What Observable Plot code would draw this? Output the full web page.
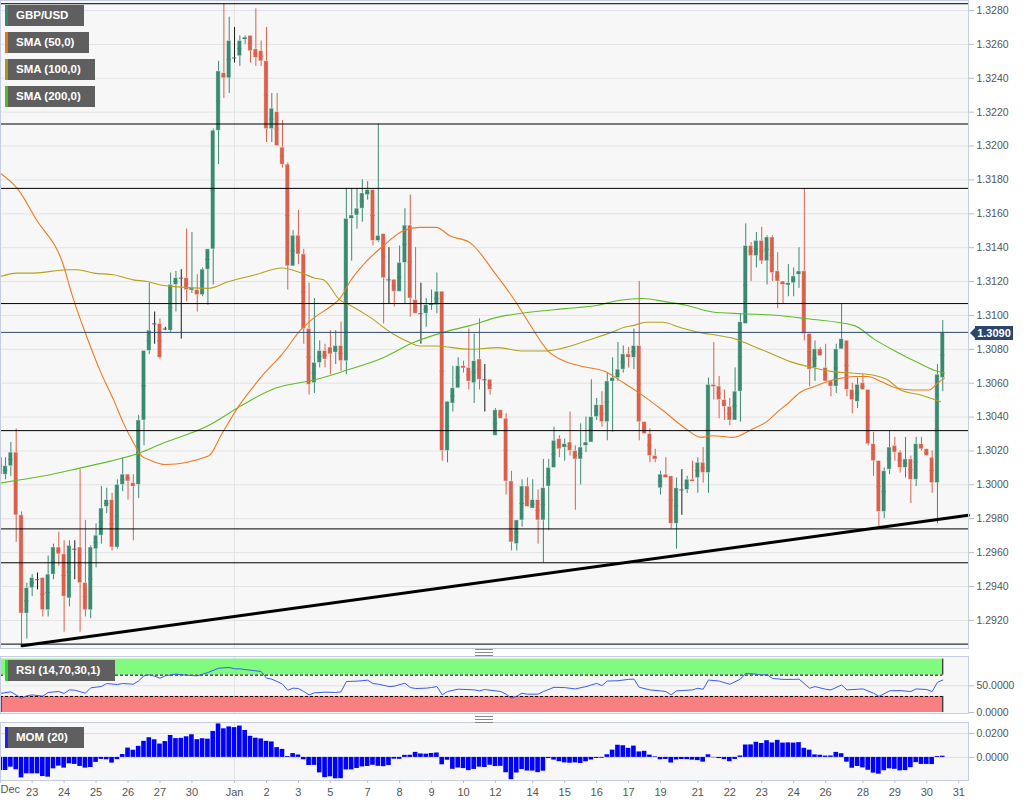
<!DOCTYPE html>
<html><head><meta charset="utf-8">
<script src="https://cdn.jsdelivr.net/npm/d3@7"></script>
<script src="https://cdn.jsdelivr.net/npm/@observablehq/plot@0.6"></script>
<style>
body{margin:0;background:#fff;font-family:"Liberation Sans",Arial,sans-serif;}
#wrap{position:relative;width:1033px;height:806px;overflow:hidden;background:#fff;}
.panel{position:absolute;left:0;}
.leg{position:absolute;left:5px;height:21px;background:#5f5f5f;color:#fff;font:bold 11.5px "Liberation Sans",Arial,sans-serif;line-height:21px;padding-left:8px;box-sizing:border-box;border-left:3px solid;white-space:nowrap;}
.handle{position:absolute;left:475px;width:18px;height:5px;border-top:1px solid #888;border-bottom:1px solid #888;}
.handle:after{content:"";position:absolute;left:0;right:0;top:1.5px;border-top:1px solid #888;}
#tag{position:absolute;left:975px;top:326px;width:38px;height:14px;background:#2d4569;color:#fff;font:bold 11px "Liberation Sans",Arial,sans-serif;line-height:14px;text-align:center;}
#tag:before{content:"";position:absolute;left:-5px;top:2px;border-top:5px solid transparent;border-bottom:5px solid transparent;border-right:5px solid #2d4569;}
</style></head>
<body><div id="wrap"></div>
<script>
// ---- candle data (GBP/USD, one value per bar) ----
const open = [1.3006,1.3006,1.3011,1.3019,1.2982,1.2924,1.2939,1.2944,1.2945,1.2926,
1.2947,1.2963,1.2959,1.2933,1.2962,1.2963,1.2942,1.2926,1.2962,1.2970,
1.2987,1.2991,1.2963,1.3000,1.3006,1.3001,1.3000,1.3038,1.3079,1.3095,
1.3095,1.3092,1.3091,1.3118,1.3122,1.3122,1.3115,1.3115,1.3112,1.3127,
1.3139,1.3209,1.3243,1.3240,1.3252,1.3253,1.3263,1.3265,1.3257,1.3256,
1.3250,1.3210,1.3220,1.3199,1.3189,1.3129,1.3147,1.3136,1.3092,1.3060,
1.3072,1.3079,1.3081,1.3078,1.3082,1.3073,1.3157,1.3159,1.3163,1.3171,
1.3174,1.3144,1.3148,1.3121,1.3121,1.3114,1.3131,1.3153,1.3109,1.3101,
1.3101,1.3106,1.3106,1.3114,1.3020,1.3048,1.3057,1.3070,1.3069,1.3060,
1.3074,1.3062,1.3062,1.3029,1.3044,1.3039,1.3002,1.2965,1.2979,1.2999,
1.2986,1.2991,1.2979,1.2999,1.3010,1.3027,1.3022,1.3025,1.3020,1.3015,
1.3023,1.3025,1.3040,1.3047,1.3037,1.3061,1.3063,1.3068,1.3077,1.3075,
1.3082,1.3037,1.3030,1.3017,1.2998,1.3006,1.3005,1.2977,1.2997,1.2997,
1.3003,1.3004,1.3013,1.3007,1.3059,1.3058,1.3050,1.3046,1.3038,1.3055,
1.3095,1.3141,1.3135,1.3144,1.3132,1.3146,1.3126,1.3120,1.3118,1.3119,
1.3124,1.3126,1.3089,1.3069,1.3080,1.3069,1.3061,1.3058,1.3080,1.3085,
1.3056,1.3049,1.3060,1.3056,1.3024,1.3014,1.2984,1.3009,1.3023,1.3019,
1.3010,1.3015,1.3003,1.3024,1.3021,1.3016,1.3001,1.3063];
const high = [1.3017,1.3016,1.3025,1.3033,1.2984,1.2942,1.2947,1.2948,1.2945,1.2958,
1.2965,1.2972,1.2967,1.2967,1.2967,1.3009,1.2979,1.2964,1.2977,1.2999,
1.2998,1.2995,1.3003,1.3016,1.3006,1.3006,1.3041,1.3079,1.3119,1.3102,
1.3098,1.3093,1.3125,1.3126,1.3127,1.3151,1.3149,1.3124,1.3128,1.3139,
1.3210,1.3250,1.3284,1.3276,1.3270,1.3265,1.3265,1.3265,1.3281,1.3262,
1.3270,1.3231,1.3231,1.3215,1.3190,1.3150,1.3162,1.3139,1.3119,1.3110,
1.3085,1.3083,1.3091,1.3091,1.3096,1.3175,1.3175,1.3175,1.3180,1.3179,
1.3174,1.3213,1.3148,1.3140,1.3121,1.3141,1.3163,1.3171,1.3140,1.3119,
1.3110,1.3115,1.3125,1.3114,1.3049,1.3070,1.3075,1.3073,1.3092,1.3089,
1.3098,1.3071,1.3062,1.3045,1.3044,1.3042,1.3008,1.2979,1.3003,1.3004,
1.3003,1.2997,1.3015,1.3015,1.3034,1.3029,1.3027,1.3043,1.3023,1.3036,
1.3040,1.3062,1.3051,1.3055,1.3066,1.3075,1.3084,1.3082,1.3081,1.3092,
1.3120,1.3037,1.3033,1.3021,1.3008,1.3016,1.3005,1.3004,1.3009,1.3005,
1.3014,1.3016,1.3022,1.3063,1.3084,1.3064,1.3056,1.3051,1.3069,1.3101,
1.3154,1.3143,1.3149,1.3152,1.3147,1.3147,1.3137,1.3120,1.3130,1.3128,
1.3140,1.3175,1.3089,1.3085,1.3081,1.3083,1.3061,1.3083,1.3107,1.3085,
1.3060,1.3063,1.3065,1.3056,1.3031,1.3014,1.3010,1.3032,1.3028,1.3020,
1.3028,1.3017,1.3028,1.3028,1.3021,1.3020,1.3071,1.3097];
const low = [1.3004,1.3003,1.3005,1.2966,1.2905,1.2909,1.2934,1.2938,1.2922,1.2922,
1.2944,1.2952,1.2913,1.2928,1.2944,1.2913,1.2922,1.2921,1.2951,1.2965,
1.2983,1.2961,1.2962,1.2996,1.2991,1.2967,1.2992,1.3023,1.3077,1.3083,
1.3074,1.3091,1.3090,1.3102,1.3086,1.3108,1.3113,1.3102,1.3111,1.3106,
1.3118,1.3189,1.3228,1.3231,1.3249,1.3247,1.3260,1.3249,1.3247,1.3247,
1.3202,1.3202,1.3200,1.3187,1.3115,1.3129,1.3130,1.3083,1.3053,1.3054,
1.3069,1.3069,1.3065,1.3071,1.3067,1.3065,1.3132,1.3151,1.3155,1.3168,
1.3141,1.3143,1.3095,1.3107,1.3105,1.3114,1.3107,1.3099,1.3101,1.3083,
1.3093,1.3103,1.3101,1.3014,1.3013,1.3043,1.3057,1.3066,1.3056,1.3048,
1.3056,1.3043,1.3053,1.3029,1.3039,1.2994,1.2961,1.2961,1.2975,1.2987,
1.2986,1.2965,1.2954,1.2973,1.3010,1.3016,1.3014,1.3017,1.2985,1.3000,
1.3019,1.3025,1.3038,1.3034,1.3026,1.3031,1.3061,1.3066,1.3069,1.3068,
1.3026,1.3030,1.3013,1.3013,1.2994,1.3004,1.2974,1.2962,1.2982,1.2995,
1.3002,1.2995,1.3001,1.2995,1.3050,1.3039,1.3038,1.3035,1.3038,1.3037,
1.3095,1.3120,1.3128,1.3130,1.3118,1.3120,1.3104,1.3107,1.3111,1.3111,
1.3116,1.3085,1.3058,1.3061,1.3076,1.3061,1.3052,1.3054,1.3080,1.3052,
1.3042,1.3045,1.3056,1.3023,1.3005,1.2975,1.2980,1.3006,1.3014,1.3007,
1.3004,1.2989,1.2999,1.3020,1.3017,1.2995,1.2977,1.3055];
const close = [1.3016,1.3011,1.3019,1.2982,1.2924,1.2939,1.2945,1.2944,1.2926,1.2947,
1.2963,1.2959,1.2934,1.2964,1.2962,1.2942,1.2926,1.2963,1.2970,1.2986,
1.2991,1.2963,1.3000,1.3006,1.3002,1.2999,1.3038,1.3079,1.3091,1.3095,
1.3075,1.3092,1.3118,1.3122,1.3122,1.3115,1.3116,1.3112,1.3127,1.3139,
1.3209,1.3244,1.3240,1.3262,1.3252,1.3262,1.3264,1.3256,1.3252,1.3250,
1.3210,1.3222,1.3200,1.3189,1.3129,1.3147,1.3136,1.3092,1.3059,1.3072,
1.3079,1.3074,1.3077,1.3082,1.3073,1.3157,1.3159,1.3163,1.3172,1.3174,
1.3144,1.3147,1.3122,1.3121,1.3114,1.3131,1.3153,1.3110,1.3101,1.3101,
1.3106,1.3107,1.3114,1.3020,1.3049,1.3057,1.3070,1.3069,1.3061,1.3073,
1.3062,1.3062,1.3056,1.3044,1.3039,1.3002,1.2966,1.2979,1.2999,1.2987,
1.2991,1.2979,1.2998,1.3010,1.3026,1.3021,1.3024,1.3020,1.3015,1.3022,
1.3025,1.3040,1.3047,1.3037,1.3061,1.3063,1.3068,1.3077,1.3075,1.3082,
1.3037,1.3030,1.3017,1.3015,1.3006,1.3004,1.2977,1.2998,1.2997,1.3003,
1.3002,1.3013,1.3007,1.3059,1.3058,1.3050,1.3046,1.3038,1.3055,1.3096,
1.3141,1.3135,1.3144,1.3132,1.3146,1.3125,1.3120,1.3118,1.3119,1.3123,
1.3126,1.3089,1.3068,1.3080,1.3076,1.3061,1.3058,1.3080,1.3086,1.3056,
1.3050,1.3059,1.3056,1.3024,1.3014,1.2984,1.3008,1.3022,1.3019,1.3010,
1.3015,1.3003,1.3024,1.3021,1.3017,1.3001,1.3065,1.3090];

// ---- moving averages: [bar index, value] ----
const sma50 = [[0,1.3184],[3.2,1.3175],[6.9,1.3156],[11.6,1.3132],[13.8,1.3109],[16.3,1.3087],[18.8,1.3067],[21.3,1.3050],[23.2,1.3036],[25.0,1.3025],[26.6,1.3017],[27.9,1.3015],[31.0,1.3012],[39.1,1.3017],[41.6,1.3030],[44.7,1.3046],[49.1,1.3064],[52.9,1.3077],[56.6,1.3092],[59.1,1.3099],[61.9,1.3105],[63.8,1.3110],[65.7,1.3120],[68.8,1.3132],[71.9,1.3141],[75.7,1.3150],[78.8,1.3152],[81.9,1.3152],[84.4,1.3147],[88.2,1.3143],[92.9,1.3125],[96.6,1.3109],[99.8,1.3093],[102.9,1.3079],[106.0,1.3073],[109.1,1.3070],[113.5,1.3067],[117.2,1.3060],[120.1,1.3054],[124.4,1.3044],[128.8,1.3033],[131.6,1.3028],[133.8,1.3029],[137.6,1.3028],[141.3,1.3033],[143.8,1.3037],[146.3,1.3044],[147.9,1.3048],[150.4,1.3055],[152.9,1.3058],[155.4,1.3061],[157.9,1.3063],[160.4,1.3064],[162.9,1.3064],[165.4,1.3061],[168.5,1.3057],[171.6,1.3056],[174.4,1.3056],[176.0,1.3060],[177.3,1.3063]];
const sma100 = [[0,1.3123],[3.2,1.3125],[6.3,1.3125],[12.6,1.3127],[14.4,1.3127],[17.6,1.3125],[21.3,1.3124],[25.0,1.3121],[27.6,1.3120],[30.1,1.3118],[32.9,1.3117],[39.1,1.3116],[42.9,1.3120],[47.9,1.3124],[52.9,1.3128],[56.6,1.3125],[59.1,1.3122],[60.7,1.3121],[63.8,1.3109],[65.7,1.3106],[69.4,1.3099],[73.8,1.3089],[76.9,1.3084],[78.8,1.3082],[81.9,1.3082],[88.2,1.3080],[93.5,1.3081],[97.9,1.3079],[102.2,1.3079],[106.0,1.3081],[111.0,1.3086],[114.8,1.3090],[117.2,1.3093],[118.8,1.3094],[121.3,1.3096],[124.4,1.3096],[127.6,1.3093],[131.3,1.3090],[135.1,1.3088],[138.2,1.3086],[141.3,1.3082],[144.4,1.3078],[149.1,1.3072],[152.9,1.3069],[156.0,1.3067],[159.8,1.3066],[163.5,1.3065],[166.6,1.3062],[169.1,1.3056],[172.9,1.3053],[176.6,1.3049]];
const sma200 = [[0,1.3001],[3.8,1.3003],[9.4,1.3006],[15.1,1.3010],[20.7,1.3014],[26.3,1.3019],[30.1,1.3024],[39.1,1.3035],[45.4,1.3047],[51.6,1.3057],[59.1,1.3062],[64.4,1.3067],[71.9,1.3075],[77.6,1.3084],[83.2,1.3090],[88.2,1.3094],[93.5,1.3099],[99.8,1.3102],[106.0,1.3104],[112.2,1.3106],[116.3,1.3109],[120.7,1.3110],[125.1,1.3108],[128.8,1.3106],[133.8,1.3102],[139.4,1.3101],[146.3,1.3100],[151.6,1.3098],[160.4,1.3094],[164.1,1.3086],[168.0,1.3079],[172.4,1.3072],[176.0,1.3067],[177.3,1.3066]];

// ---- horizontal levels, trend line, last price ----
const levels = [1.3284, 1.3213, 1.3175, 1.3107, 1.3032, 1.2974, 1.2954, 1.2906];
const trendline = [{i: 4.1, p: 1.2905}, {i: 181.8, p: 1.2982}];
const lastPrice = 1.3090;

// ---- RSI (14): [bar index, value] ----
const rsi = [[0,35.6],[2,38.7],[4,26.8],[5,31.2],[6,33],[8,30.6],[9,37.5],[11,39.3],[12,35.6],[13,42.4],[14,41.8],[16,36.2],[17,46.2],[19,48.7],[20,54.3],[22,52.4],[23,54.3],[25,53],[26,59.3],[27,68.7],[28,70.5],[29,68],[30,64.3],[31,68.7],[33,71.8],[35,69.9],[37,68.7],[38,71.8],[39,74.9],[41,83],[43,84.3],[44,81.8],[45,81.8],[46,80.5],[48,78],[49,76.8],[50,64.3],[51,62.4],[52,58],[53,53],[54,41.8],[55,45.6],[56,44.9],[57,39.3],[58,33.1],[59,36.8],[61,38.1],[63,37.5],[64,38.7],[65,58],[67,58.7],[69,60.5],[70,54.3],[71,53],[73,48.7],[74,49.3],[76,54.9],[77,46.8],[78,44.9],[80,45.6],[81,46.8],[82,48.7],[83,33.1],[84,39.3],[86,43.7],[89,42.4],[90,40.6],[91,43],[94,39.3],[95,34.3],[96,26.8],[97,30.5],[98,36],[99,34.3],[101,34.3],[102,39.2],[104,47.2],[106,46.6],[108,44.2],[110,48.5],[112,54.6],[113,50.3],[114,58.9],[116,59.5],[118,62],[119,62.6],[120,47.2],[122,42.3],[124,40.5],[125,39.2],[126,33.1],[127,40.5],[130,42.3],[131,45.4],[132,43.5],[133,60.8],[135,58.9],[137,52.8],[139,62.6],[140,73.1],[142,71.8],[143,70],[144,71.2],[145,63.8],[147,62],[149,62],[150,62.6],[152,45.4],[153,48.5],[155,43.5],[156,42.3],[158,51.5],[159,42.3],[161,43.5],[162,44.2],[164,36.2],[165,30],[167,40.5],[169,41.1],[171,39.2],[172,44.2],[174,43],[175,39.2],[176,56.5],[177,60.8]];
const rsiZones = [{lo: 70, hi: 100, fill: "#80fb80"}, {lo: 0, hi: 30, fill: "#f98080"}];

// ---- MOM (20), one bar per candle ----
const mom = [-0.0110,-0.0110,-0.0082,-0.0104,-0.0172,-0.0138,-0.0138,-0.0138,-0.0161,-0.0166,
-0.0096,-0.0073,-0.0090,-0.0054,-0.0059,-0.0076,-0.0090,-0.0085,-0.0042,-0.0017,
-0.0020,-0.0048,-0.0019,0.0024,0.0078,0.0060,0.0093,0.0135,0.0165,0.0148,
0.0112,0.0133,0.0184,0.0158,0.0160,0.0173,0.0190,0.0149,0.0157,0.0153,
0.0218,0.0281,0.0240,0.0256,0.0250,0.0263,0.0226,0.0177,0.0161,0.0155,
0.0135,0.0130,0.0082,0.0067,0.0007,0.0032,0.0020,-0.0020,-0.0068,-0.0067,
-0.0130,-0.0170,-0.0163,-0.0180,-0.0179,-0.0105,-0.0105,-0.0093,-0.0080,-0.0076,
-0.0066,-0.0075,-0.0078,-0.0068,-0.0015,-0.0016,0.0017,0.0018,0.0042,0.0029,
0.0027,0.0033,0.0037,-0.0062,-0.0024,-0.0100,-0.0089,-0.0094,-0.0111,-0.0101,
-0.0082,-0.0085,-0.0066,-0.0077,-0.0075,-0.0129,-0.0187,-0.0131,-0.0102,-0.0114,
-0.0115,-0.0128,-0.0116,-0.0010,-0.0023,-0.0036,-0.0046,-0.0049,-0.0046,-0.0051,
-0.0037,-0.0022,-0.0009,-0.0007,0.0022,0.0061,0.0102,0.0098,0.0076,0.0095,
0.0046,0.0051,0.0019,0.0005,-0.0020,-0.0017,-0.0047,-0.0022,-0.0018,-0.0019,
-0.0023,-0.0027,-0.0040,0.0022,-0.0003,-0.0010,-0.0019,-0.0036,-0.0017,0.0012,
0.0104,0.0105,0.0127,0.0117,0.0140,0.0121,0.0143,0.0120,0.0122,0.0120,
0.0124,0.0076,0.0061,0.0021,0.0018,0.0011,0.0012,0.0042,0.0031,-0.0040,
-0.0091,-0.0076,-0.0088,-0.0108,-0.0132,-0.0141,-0.0112,-0.0096,-0.0100,-0.0113,
-0.0111,-0.0086,-0.0044,-0.0059,-0.0059,-0.0060,0.0007,0.0010];

// ---- axis ticks ----
const yTicks = [1.2920,1.2940,1.2960,1.2980,1.3000,1.3020,1.3040,1.3060,1.3080,1.3100,1.3120,1.3140,1.3160,1.3180,1.3200,1.3220,1.3240,1.3260,1.3280];
const rsiTicks = [0, 50];
const momTicks = [0, 0.02];
const xTickIdx = [0,6,12,18,24,30,36,44,50,56,62,69,75,81,87,93,100,106,112,118,124,131,137,143,149,155,162,168,174,180];
const xTickLab = ["Dec","23","24","25","26","27","30","Jan","2","3","5","7","8","9","10","12","14","15","16","17","19","21","22","23","24","26","28","29","30","31"];
const janIdx = 44;

// ---------------- drawing ----------------
const X0 = 0.0526, X1 = 181.83;
const rsiEnd = 177;
const GREEN = "#3a8a72", RED = "#d9604b", DOJI = "#1a1a1a";
const candles = close.map((c, i) => ({i, o: open[i], h: high[i], l: low[i], c}));
const col = d => d.c > d.o ? GREEN : (d.c < d.o ? RED : DOJI);
const fmt4 = d3.format(".4f");
const labMap = new Map(xTickIdx.map((d, k) => [d, xTickLab[k]]));
const FONT = '"Liberation Sans", Arial, sans-serif';
const base = {width: 1033, marginLeft: 0, marginRight: 65, marginTop: 0,
  x: {domain: [X0, X1], axis: null, label: null},
  color: {type: "identity"},
  style: {fontFamily: FONT, fontSize: "10.5px", color: "#555", background: "transparent", overflow: "visible"}};
const gridC = "#e3e3e3", frameC = "#c6cde0", tickC = "#b3bcd6";

const main = Plot.plot({...base, height: 648, marginBottom: 0,
  y: {domain: [1.29034, 1.32859], axis: null, label: null},
  marks: [
    Plot.frame({fill: "#f7f7f7", stroke: null}),
    Plot.ruleY(yTicks, {stroke: gridC}),
    Plot.ruleX([janIdx], {stroke: gridC}),
    Plot.ruleX(candles, {x: "i", y1: "l", y2: "h", stroke: col, strokeWidth: 1}),
    Plot.rect(candles.filter(d => d.o !== d.c), {x1: d => d.i - 0.4, x2: d => d.i + 0.4, y1: "o", y2: "c",
      fill: col, stroke: "#ffffff", strokeOpacity: 0.45, strokeWidth: 0.8}),
    Plot.ruleY(candles, {y: d => (d.o + d.c) / 2, x1: d => d.i - 0.4, x2: d => d.i + 0.4,
      stroke: d => d.o === d.c ? "#666" : col(d), strokeWidth: 1}),
    Plot.line(sma200, {x: d => d[0], y: d => d[1], stroke: "#62bc28", strokeWidth: 1.1, curve: "monotone-x"}),
    Plot.line(sma100, {x: d => d[0], y: d => d[1], stroke: "#b4a21c", strokeWidth: 1.1, curve: "monotone-x"}),
    Plot.line(sma50, {x: d => d[0], y: d => d[1], stroke: "#f07a1e", strokeWidth: 1.1, curve: "monotone-x"}),
    Plot.ruleY(levels, {stroke: "#000", strokeWidth: 1}),
    Plot.ruleY([lastPrice], {stroke: "#2f4a6e", strokeWidth: 1}),
    Plot.line(trendline, {x: "i", y: "p", stroke: "#000", strokeWidth: 3}),
    Plot.frame({stroke: frameC}),
    Plot.axisY(yTicks, {anchor: "right", tickFormat: fmt4, tickSize: 5, tickPadding: 3,
      stroke: tickC, color: "#555", fontSize: 10.5, label: null})
  ]});

const rsiPlot = Plot.plot({...base, height: 57, marginBottom: 0,
  y: {domain: [-1.9, 104.9], axis: null, label: null},
  marks: [
    Plot.frame({fill: "#f7f7f7", stroke: null}),
    Plot.ruleY([50], {stroke: gridC}),
    Plot.ruleX([janIdx], {stroke: gridC}),
    Plot.rect(rsiZones, {x1: () => X0, x2: () => rsiEnd, y1: "lo", y2: "hi", fill: "fill"}),
    Plot.ruleY(rsiZones, {y: d => d.lo === 0 ? d.hi : d.lo, x1: () => X0, x2: () => rsiEnd, stroke: "#000", strokeDasharray: "3,2"}),
    Plot.ruleX(rsiZones, {x: () => rsiEnd, y1: "lo", y2: "hi", stroke: "#000"}),
    Plot.ruleX(rsiZones.filter(d => d.lo === 0), {x: () => X0 + 0.1, y1: "lo", y2: "hi", stroke: "#000"}),
    Plot.line(rsi, {x: d => d[0], y: d => d[1], stroke: "#3a5cf5", strokeWidth: 1}),
    Plot.frame({stroke: frameC}),
    Plot.axisY(rsiTicks, {anchor: "right", tickFormat: fmt4, tickSize: 5, tickPadding: 3,
      stroke: tickC, color: "#555", fontSize: 10.5, label: null})
  ]});

const momData = mom.map((v, i) => ({i, v}));
const momPlot = Plot.plot({...base, height: 84, marginBottom: 26,
  y: {domain: [-0.0194, 0.0293], axis: null, label: null},
  marks: [
    Plot.frame({fill: "#f7f7f7", stroke: null}),
    Plot.ruleY(momTicks, {stroke: "#dddddd"}),
    Plot.ruleX([janIdx], {stroke: gridC}),
    Plot.rect(momData, {x1: d => d.i - 0.5, x2: d => d.i + 0.5, y1: () => 0, y2: "v",
      fill: "#0000ff", insetLeft: 0.35, insetRight: 0.35}),
    Plot.frame({stroke: frameC}),
    Plot.axisY(momTicks, {anchor: "right", tickFormat: fmt4, tickSize: 5, tickPadding: 3,
      stroke: tickC, color: "#555", fontSize: 10.5, label: null}),
    Plot.axisX(xTickIdx, {anchor: "bottom", tickSize: 3, tickPadding: 5,
      tickFormat: d => d === 0 ? "" : labMap.get(d), stroke: tickC, color: "#555", fontSize: 11, label: null}),
    Plot.text([{i: X0, t: xTickLab[0]}], {x: "i", text: "t", frameAnchor: "bottom", textAnchor: "start",
      dy: 12.5, fontSize: 11, fill: "#555"})
  ]});

const wrap = document.getElementById("wrap");
function place(el, top) { el.classList.add("panel"); el.style.top = top + "px"; wrap.appendChild(el); }
place(main, 0); place(rsiPlot, 656); place(momPlot, 722);

// legends and overlays
const legends = [
  {t: "GBP/USD", top: 5, w: 79, c: "#2e8b74"},
  {t: "SMA (50,0)", top: 32, w: 84, c: "#e8731a"},
  {t: "SMA (100,0)", top: 59, w: 90, c: "#a89a14"},
  {t: "SMA (200,0)", top: 86, w: 90, c: "#55b81e"},
  {t: "RSI (14,70,30,1)", top: 660, w: 110, c: "#22dd22"},
  {t: "MOM (20)", top: 727, w: 79, c: "#2222ee"}
];
for (const l of legends) {
  const d = document.createElement("div");
  d.className = "leg"; d.textContent = l.t;
  d.style.top = l.top + "px"; d.style.width = l.w + "px"; d.style.borderLeftColor = l.c;
  wrap.appendChild(d);
}
for (const t of [649, 716]) {
  const h = document.createElement("div"); h.className = "handle"; h.style.top = t + "px"; wrap.appendChild(h);
}
const tag = document.createElement("div"); tag.id = "tag"; tag.textContent = fmt4(lastPrice); wrap.appendChild(tag);
</script>
</body></html>
